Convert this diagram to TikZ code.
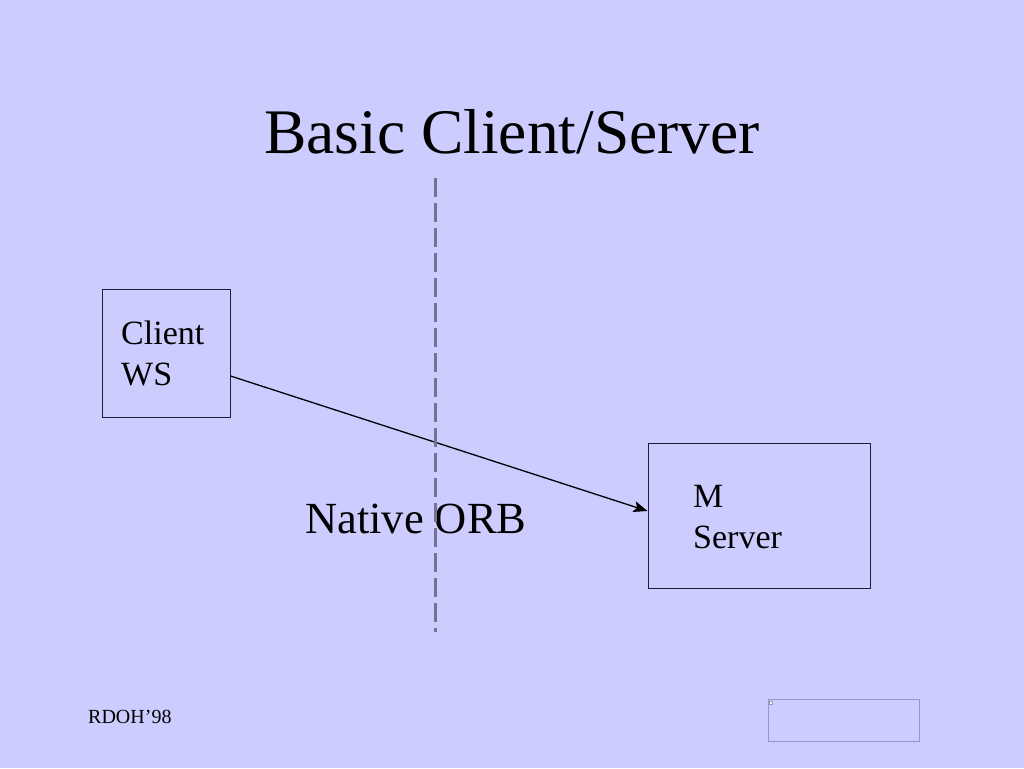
\documentclass[tikz,border=0pt]{standalone}
\usepackage{fontspec}
\setmainfont{Liberation Serif}
\usetikzlibrary{arrows.meta}
\definecolor{bg}{RGB}{204,204,255}
\definecolor{dashgray}{RGB}{115,115,150}
\definecolor{phborder}{RGB}{150,150,195}
\definecolor{boxline}{RGB}{30,30,60}
\begin{document}
\begin{tikzpicture}[x=1pt,y=-1pt,
  box/.style={draw=boxline, line width=1pt, inner sep=0pt},
  lbl/.style={anchor=base west, inner sep=0pt, font=\fontsize{34}{41}\selectfont},
  conn/.style={line width=1.3pt, -{Stealth[length=14pt,width=11pt,inset=3pt]}}]
\fill[bg] (0,0) rectangle (1024,768);
\useasboundingbox (0,0) rectangle (1024,768);
\node[anchor=base, inner sep=0pt, font=\fontsize{63.5}{74}\selectfont] (title) at (512,153) {Basic Client/Server};
\node[box, minimum width=128pt, minimum height=128pt] (client) at (166,353) {};
\node[lbl] (clientA) at (121,344) {Client};
\node[lbl] (clientB) at (121,385) {WS};
\node[box, minimum width=222pt, minimum height=145pt] (server) at (759,515.5) {};
\node[lbl] (serverA) at (693,507) {M};
\node[lbl] (serverB) at (693,548) {Server};
\node[anchor=base west, inner sep=0pt, font=\fontsize{44.5}{52}\selectfont] (orb) at (305,533) {Native ORB};
\node[anchor=base west, inner sep=0pt, font=\fontsize{20}{24}\selectfont] (foot) at (88,723) {RDOH’98};
\node[draw=phborder, line width=0.8pt, minimum width=151pt, minimum height=42pt, inner sep=0pt] (placeholder) at (843.5,720) {};
\node[draw=phborder, fill=white, minimum size=3pt, inner sep=0pt, line width=0.3pt] (phicon) at (771,702.5) {};
\draw[conn] ([yshift=-23pt]client.east) -- ([yshift=4.5pt]server.west);
\coordinate (dtop) at (435,178);
\coordinate (dbot) at (435,632);
\draw[dashgray, line width=3pt, dash pattern=on 19pt off 6pt] (dtop) -- (dbot);
\end{tikzpicture}
\end{document}
